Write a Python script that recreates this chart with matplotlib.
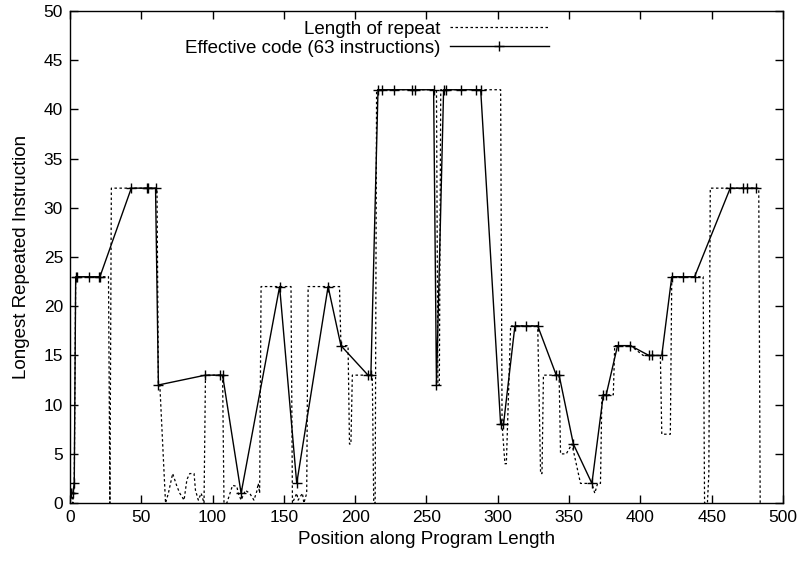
import numpy as np
import matplotlib
matplotlib.use('Agg')
import matplotlib.pyplot as plt

plt.rcParams['font.family'] = ['Liberation Sans', 'DejaVu Sans']

# Length of repeat (dotted), vertices
repeat_x = [0, 1, 2, 3, 4, 27, 28, 29, 61, 62, 63, 67, 69, 72, 75, 77, 80, 82, 84, 87,
            88, 90, 92, 94, 95, 106, 107, 108, 110, 114, 117, 118, 120, 123, 126, 129,
            131, 132, 133, 134, 155, 156, 159, 160, 163, 164, 166, 167, 189, 190, 195,
            196, 197, 198, 212, 213, 214, 215, 257, 258, 259, 260, 302, 303, 305, 306,
            309, 310, 327, 328, 330, 331, 332, 343, 344, 346, 348, 352, 355, 358, 362,
            366, 368, 370, 372, 373, 381, 382, 393, 402, 414, 415, 421, 422, 444, 445,
            447, 448, 449, 482, 483, 484]
repeat_y = [1, 1, 0, 2, 23, 23, 0, 32, 32, 12, 12, 0, 1, 3, 1.7, 1, 0.3, 2.4, 3, 3,
            1.3, 0.3, 1, 0, 13, 13, 13, 0, 0, 1.8, 1.7, 1, 0.3, 1.3, 1, 0.3,
            1.2, 2, 1, 22, 22, 0, 1, 0.3, 1, 0, 1, 22, 22, 16, 16,
            6, 6, 13, 13, 0, 0, 42, 42, 12, 12, 42, 42, 8, 4, 4,
            18, 18, 18, 18, 3, 3, 13, 13, 5, 5, 5, 6, 4, 2, 2,
            2, 1, 2, 2, 11, 11, 16, 16, 15, 15, 7, 7, 23, 23, 0,
            0, 3, 32, 32, 32, 0]

# Effective code (solid with + markers)
code_x = [0, 1, 2, 3, 4, 5, 13, 20, 21, 43, 54, 55, 60, 62, 95, 105, 107, 120, 147,
          159, 181, 190, 209, 211, 216, 219, 227, 240, 242, 255, 257, 262, 264, 274,
          285, 288, 302, 304, 312, 320, 328, 341, 343, 353, 366, 374, 376, 384, 393,
          406, 408, 415, 422, 430, 438, 463, 472, 475, 481]
code_y = [1, 1, 1, 2, 23, 23, 23, 23, 23, 32, 32, 32, 32, 12, 13, 13, 13, 1, 22,
          2, 22, 16, 13, 13, 42, 42, 42, 42, 42, 42, 12, 42, 42, 42,
          42, 42, 8, 8, 18, 18, 18, 13, 13, 6, 2, 11, 11, 16, 16,
          15, 15, 15, 23, 23, 23, 32, 32, 32, 32]

fig = plt.figure(figsize=(7.98, 5.64), dpi=100)
ax = fig.add_axes([0.0877, 0.108, 0.8935, 0.8725])

ax.plot(repeat_x, repeat_y, color='black', lw=0.9, linestyle=(0, (2, 2)),
        label='Length of repeat')
ax.plot(code_x, code_y, color='black', lw=1.0, marker='+', markersize=7,
        markeredgewidth=1.0, label='Effective code (63 instructions)')

ax.set_xlim(0, 500)
ax.set_ylim(0, 50)
ax.set_xticks(np.arange(0, 501, 50))
ax.set_yticks(np.arange(0, 51, 5))
ax.tick_params(direction='in', top=True, right=True, length=6, width=1,
               labelsize=12.5, pad=5)
for s in ax.spines.values():
    s.set_linewidth(1)

ax.set_xlabel('Position along Program Length', fontsize=13.5, labelpad=4)
ax.set_ylabel('Longest Repeated Instruction', fontsize=13.5, labelpad=10)

ax.legend(loc='upper right', bbox_to_anchor=(0.672, 0.98), frameon=False,
          markerfirst=False, fontsize=13.5, handlelength=5.3, labelspacing=0.1,
          handletextpad=0.5, borderaxespad=0.0, borderpad=0.0)

plt.savefig('out.png', dpi=100)
